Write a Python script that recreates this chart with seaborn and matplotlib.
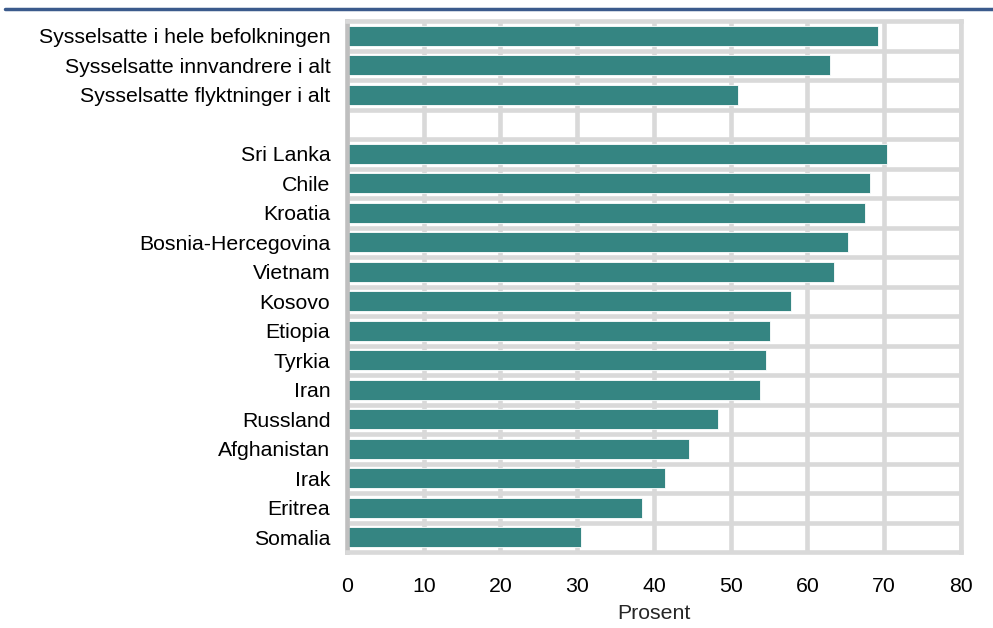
import matplotlib
matplotlib.use('Agg')
import matplotlib.pyplot as plt
import seaborn as sns
import pandas as pd
from matplotlib.ticker import FixedLocator

# data
groups = ['Sysselsatte i hele befolkningen', 'Sysselsatte innvandrere i alt',
          'Sysselsatte flyktninger i alt', ' ',
          'Sri Lanka', 'Chile', 'Kroatia', 'Bosnia-Hercegovina', 'Vietnam',
          'Kosovo', 'Etiopia', 'Tyrkia', 'Iran', 'Russland', 'Afghanistan',
          'Irak', 'Eritrea', 'Somalia']
values = [69.2, 62.9, 50.9, 0,
          70.4, 68.2, 67.5, 65.3, 63.5,
          57.8, 55.1, 54.6, 53.8, 48.3, 44.6,
          41.4, 38.5, 30.5]
xticks = [0, 10, 20, 30, 40, 50, 60, 70, 80]

df = pd.DataFrame({'Gruppe': groups, 'Prosent': values})

sns.set_style('white')
plt.rcParams['font.family'] = ['Liberation Sans', 'DejaVu Sans']

bar_col = '#358582'
grid_col = '#d9d9d9'

fig = plt.figure(figsize=(9.93, 6.28), dpi=100)
ax = fig.add_axes([0.3494, 0.121, 0.6183, 0.8455])

sns.barplot(data=df, x='Prosent', y='Gruppe', orient='h', order=groups,
            color=bar_col, saturation=1, width=0.68, ax=ax,
            edgecolor='white', linewidth=0.6, zorder=3)

ax.set_xlim(0, 80)
ax.set_ylim(len(groups) - 0.5, -0.5)
ax.xaxis.set_major_locator(FixedLocator(xticks))
# lines between the rows
ax.yaxis.set_minor_locator(FixedLocator([i + 0.5 for i in range(len(groups) - 1)]))

ax.set_axisbelow(True)
ax.grid(axis='x', which='major', color=grid_col, linewidth=3.3, zorder=0)
ax.grid(axis='y', which='minor', color=grid_col, linewidth=3.3, zorder=0)

for side in ['top', 'right', 'bottom']:
    ax.spines[side].set_color(grid_col)
    ax.spines[side].set_linewidth(3.3)
ax.spines['left'].set_color('#bfbfbf')
ax.spines['left'].set_linewidth(3.3)
for s in ax.spines.values():
    s.set_zorder(4)

ax.tick_params(axis='both', which='both', length=0, labelsize=15.3, colors='black')
ax.tick_params(axis='x', pad=18)
ax.tick_params(axis='y', pad=12)
ax.set_ylabel('')
ax.set_xlabel('Prosent', fontsize=15.3, labelpad=6)

# blue rule at the top of the figure
fig.add_artist(plt.Line2D([0.005, 1.0], [0.986, 0.986], color='#3b5a8c',
                          linewidth=2.5, transform=fig.transFigure))

fig.savefig('out.png', dpi=100)
